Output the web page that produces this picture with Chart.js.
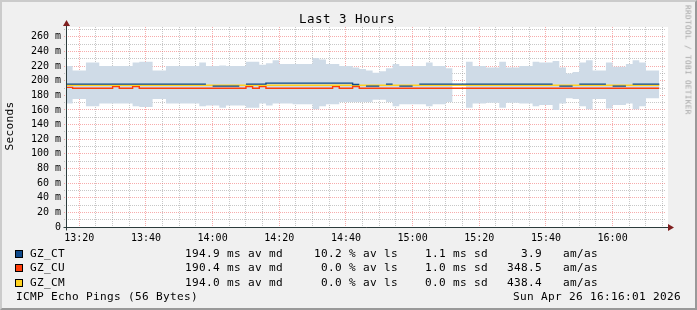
<!DOCTYPE html>
<html>
<head>
<meta charset="utf-8">
<script src="https://cdn.jsdelivr.net/npm/chart.js@4/dist/chart.umd.min.js"></script>
<style>
html,body{margin:0;padding:0;background:#f0f0f0;}
#wrap{position:relative;width:697px;height:310px;overflow:hidden;background:#f0f0f0;box-sizing:border-box;}
#frame{position:absolute;left:0;top:0;width:697px;height:310px;box-sizing:border-box;border-top:2px solid #cbcbcb;border-left:2px solid #cbcbcb;border-right:2px solid #999;border-bottom:2px solid #999;pointer-events:none;}
canvas{position:absolute;left:0;top:0;}
.t{position:absolute;font-family:"DejaVu Sans Mono",monospace;color:#000;white-space:pre;font-size:11.1px;letter-spacing:0.32px;line-height:14px;}
.r{text-align:right;}
.sw{position:absolute;width:6px;height:6px;border:1px solid #000;}
</style>
</head>
<body>
<div id="wrap">
<canvas id="c" width="697" height="310"></canvas>
<div id="title" class="t" style="left:0;top:11px;width:694px;text-align:center;font-size:12.5px;letter-spacing:0.47px;line-height:16px;"></div>
<div id="ylab" class="t" style="left:10px;top:126px;transform:translate(-50%,-50%) rotate(-90deg);"></div>
<div id="wm" class="t" style="left:688px;top:60px;transform:translate(-50%,-50%) rotate(90deg);font-size:7.6px;letter-spacing:0.42px;color:#a0a0a0;line-height:9px;"></div>
<div id="legend"></div>
<div id="frame"></div>
</div>
<script>
// ---- data ----
const chartTitle = 'Last 3 Hours';
const yAxisTitle = 'Seconds';
const watermark = 'RRDTOOL / TOBI OETIKER';
const xMin = 13*60 + 16 + 1/60;   // 13:16:01
const xMax = 16*60 + 16 + 1/60;   // 16:16:01
const xGridValues = [800,805,810,815,820,825,830,835,840,845,850,855,860,865,870,875,880,885,890,895,900,905,910,915,920,925,930,935,940,945,950,955,960,965,970,975];
const xTickValues = [800,820,840,860,880,900,920,940,960];
const xTickLabels = ['13:20','13:40','14:00','14:20','14:40','15:00','15:20','15:40','16:00'];
const yMax = 273.5;
const yGridValues = [0,10,20,30,40,50,60,70,80,90,100,110,120,130,140,150,160,170,180,190,200,210,220,230,240,250,260,270];
const yTickValues = [0,20,40,60,80,100,120,140,160,180,200,220,240,260];
const yTickLabels = ['0','20 m','40 m','60 m','80 m','100 m','120 m','140 m','160 m','180 m','200 m','220 m','240 m','260 m'];
const stepStart = 796;   // 13:16 in minutes
const stepMinutes = 2;
const bandHi = [220,214,214,225,225,220,220,220,220,220,225,226,226,214,214,220,220,220,220,220,
  225,220,220,221,220,220,220,226,226,222,224,228,223,223,223,223,223,231,229,223,
  223,220,220,218,216,214,211,213,217,223,220,220,220,220,225,220,220,217,null,null,
  226,220,220,218,218,226,218,218,220,220,226,225,225,227,218,210,212,225,228,214,
  214,225,219,219,223,228,225,214,214];
const bandLo = [169,175,175,165,165,169,169,169,169,169,165,164,164,175,175,169,169,169,169,169,
  165,166,166,163,166,166,166,163,163,169,166,169,169,169,168,168,168,161,165,168,
  168,171,171,171,171,171,174,174,171,165,168,168,168,168,165,168,168,171,null,null,
  163,169,169,170,170,163,170,170,169,169,165,167,167,160,169,176,175,165,161,175,
  175,162,167,167,169,161,165,176,176];
const ctMedian = [195.4,195.4,195.4,195.4,195.4,195.4,195.4,195.4,195.4,195.4,195.4,195.4,195.4,195.4,195.4,195.4,195.4,195.4,195.4,195.4,
  195.4,null,192.6,192.6,192.6,192.6,null,195.4,195.4,195.4,196.8,196.8,196.8,196.8,196.8,196.8,196.8,196.8,196.8,196.8,
  196.8,196.8,196.8,194.8,null,192.6,192.6,null,195.4,null,192.6,192.6,null,195.4,195.4,195.4,195.4,195.4,195.4,195.4,
  195.4,195.4,195.4,195.4,195.4,195.4,195.4,195.4,195.4,195.4,195.4,195.4,195.4,null,192.6,192.6,null,195.4,195.4,195.4,
  195.4,null,192.6,192.6,null,195.4,195.4,195.4,195.4];
const cuMedian = [191,189.7,189.7,189.7,189.7,189.7,189.7,192,189.7,189.7,192,189.7,189.7,189.7,189.7,189.7,189.7,189.7,189.7,189.7,
  189.7,189.7,189.7,189.7,189.7,189.7,189.7,192,189.7,192,189.7,189.7,189.7,189.7,189.7,189.7,189.7,189.7,189.7,189.7,
  192,189.7,189.7,192,189.7,189.7,189.7,189.7,189.7,189.7,189.7,189.7,189.7,189.7,189.7,189.7,189.7,189.7,189.7,189.7,
  189.7,189.7,189.7,189.7,189.7,189.7,189.7,189.7,189.7,189.7,189.7,189.7,189.7,189.7,189.7,189.7,189.7,189.7,189.7,189.7,
  189.7,189.7,189.7,189.7,189.7,189.7,189.7,189.7,189.7];
const cmMedian = [193.8,193.8,193.8,193.8,193.8,193.8,193.8,193.8,193.8,193.8,193.8,193.8,193.8,193.8,193.8,193.8,193.8,193.8,193.8,193.8,
  193.8,193.8,193.8,193.8,193.8,193.8,193.8,193.8,193.8,193.8,193.8,193.8,193.8,193.8,193.8,193.8,193.8,193.8,193.8,193.8,
  193.8,193.8,193.8,193.8,193.8,193.8,193.8,193.8,193.8,193.8,193.8,193.8,193.8,193.8,193.8,193.8,193.8,193.8,193.8,193.8,
  193.8,193.8,193.8,193.8,193.8,193.8,193.8,193.8,193.8,193.8,193.8,193.8,193.8,193.8,193.8,193.8,193.8,193.8,193.8,193.8,
  193.8,193.8,193.8,193.8,193.8,193.8,193.8,193.8,193.8];
const seriesNames = ['GZ_CT','GZ_CU','GZ_CM'];
const legendMedian = ['194.9 ms av md','190.4 ms av md','194.0 ms av md'];
const legendLoss = ['10.2 % av ls','0.0 % av ls','0.0 % av ls'];
const legendSd = ['1.1 ms sd','1.0 ms sd','0.0 ms sd'];
const legendAmas = ['3.9','348.5','438.4'];
const footerLeft = 'ICMP Echo Pings (56 Bytes)';
const footerRight = 'Sun Apr 26 16:16:01 2026';

// ---- styles ----
const seriesColors = ['#0f4a8c','#ff3d0a','#ffd21f'];
const bandColor = '#cfdbe7';
const majorGrid = 'rgba(240,90,90,0.5)';
const minorGrid = 'rgba(130,130,130,0.45)';
const axisColor = '#2c3c3c';
const arrowColor = '#7f1f1f';
const FONT = '"DejaVu Sans Mono", monospace';

// ---- text ----
document.getElementById('title').textContent = chartTitle;
document.getElementById('ylab').textContent = yAxisTitle;
document.getElementById('wm').textContent = watermark;
const leg = document.getElementById('legend');
function addText(txt, css, cls){
  const d = document.createElement('div');
  d.className = 't' + (cls ? ' ' + cls : '');
  d.style.cssText = css;
  d.textContent = txt;
  leg.appendChild(d);
}
seriesNames.forEach((n,i)=>{
  const top = 247 + i*14.3;
  const sw = document.createElement('div');
  sw.className = 'sw';
  sw.style.cssText = 'left:15px;top:' + (top+3) + 'px;background:' + seriesColors[i] + ';';
  leg.appendChild(sw);
  addText(n, 'left:30px;top:' + top + 'px;');
  addText(legendMedian[i], 'left:185px;top:' + top + 'px;');
  addText(legendLoss[i], 'right:' + (697-398) + 'px;top:' + top + 'px;', 'r');
  addText(legendSd[i], 'left:425px;top:' + top + 'px;');
  addText(legendAmas[i], 'right:' + (697-542) + 'px;top:' + top + 'px;', 'r');
  addText('am/as', 'left:563px;top:' + top + 'px;');
});
addText(footerLeft, 'left:16px;top:290px;');
addText(footerRight, 'right:' + (697-681) + 'px;top:290px;', 'r');

// ---- chart ----
function stepPoints(vals){
  const pts = [];
  vals.forEach((v,k)=>{
    const t0 = stepStart + k*stepMinutes, t1 = t0 + stepMinutes;
    if (v === null) pts.push({x: t0 + stepMinutes/2, y: null});
    else pts.push({x: t0, y: v}, {x: t1, y: v});
  });
  return pts;
}

const bgPlugin = {
  id: 'rrdbg',
  beforeDraw(chart){
    const {ctx, chartArea: a} = chart;
    ctx.save();
    ctx.fillStyle = '#ffffff';
    ctx.fillRect(a.left, a.top, a.right - a.left + 2, a.bottom - a.top);
    ctx.restore();
  },
  afterDraw(chart){
    const {ctx, chartArea: a} = chart;
    const x0 = Math.round(a.left) + 0.5, y0 = Math.round(a.bottom) + 0.5;
    ctx.save();
    ctx.strokeStyle = axisColor;
    ctx.lineWidth = 1;
    ctx.beginPath();
    ctx.moveTo(x0 - 3, y0); ctx.lineTo(a.right + 4, y0);
    ctx.moveTo(x0, y0 + 3); ctx.lineTo(x0, a.top - 3);
    ctx.stroke();
    ctx.fillStyle = arrowColor;
    ctx.beginPath();
    ctx.moveTo(x0, a.top - 7); ctx.lineTo(x0 - 3.5, a.top - 1); ctx.lineTo(x0 + 3.5, a.top - 1); ctx.closePath();
    ctx.fill();
    ctx.beginPath();
    ctx.moveTo(a.right + 8, y0); ctx.lineTo(a.right + 2, y0 - 3.5); ctx.lineTo(a.right + 2, y0 + 3.5); ctx.closePath();
    ctx.fill();
    ctx.restore();
  }
};

const gridX = c => ((c.tick && (c.tick.value - 800) % 20 === 0) ? majorGrid : minorGrid);
const gridY = c => ((c.tick && c.tick.value % 20 === 0) ? majorGrid : minorGrid);

new Chart(document.getElementById('c'), {
  type: 'line',
  data: {
    datasets: [
      {label: seriesNames[0], data: stepPoints(ctMedian), borderColor: seriesColors[0], borderWidth: 1.4, pointRadius: 0, fill: false, order: 1, spanGaps: false},
      {label: seriesNames[2], data: stepPoints(cmMedian), borderColor: seriesColors[2], borderWidth: 1.4, pointRadius: 0, fill: false, order: 2, spanGaps: false},
      {label: seriesNames[1], data: stepPoints(cuMedian), borderColor: seriesColors[1], borderWidth: 1.4, pointRadius: 0, fill: false, order: 3, spanGaps: false},
      {label: 'hi', data: stepPoints(bandHi), borderWidth: 0, borderColor: 'rgba(0,0,0,0)', backgroundColor: bandColor, pointRadius: 0, fill: '+1', order: 10, spanGaps: false},
      {label: 'lo', data: stepPoints(bandLo), borderWidth: 0, borderColor: 'rgba(0,0,0,0)', pointRadius: 0, fill: false, order: 11, spanGaps: false}
    ]
  },
  options: {
    responsive: false,
    animation: false,
    devicePixelRatio: 1,
    events: [],
    layout: {padding: {left: 0, top: 27, right: 31, bottom: 0}},
    plugins: {legend: {display: false}, tooltip: {enabled: false}, title: {display: false}},
    elements: {line: {tension: 0}},
    scales: {
      x: {
        type: 'linear', min: xMin, max: xMax, z: 1,
        afterBuildTicks: s => { s.ticks = xGridValues.map(v => ({value: v})); },
        afterFit: s => { s.height = 83; },
        ticks: {
          autoSkip: false, maxRotation: 0, padding: 3, color: '#000',
          font: {family: FONT, size: 10},
          callback: v => { const i = xTickValues.indexOf(v); return i >= 0 ? xTickLabels[i] : ''; }
        },
        grid: {color: gridX, tickColor: gridX, tickLength: 2, lineWidth: 1, drawTicks: true, tickBorderDash: [1,1]},
        border: {display: false, dash: [1,1]}
      },
      y: {
        type: 'linear', min: 0, max: yMax, z: 1,
        afterBuildTicks: s => { s.ticks = yGridValues.map(v => ({value: v})); },
        afterFit: s => { s.width = 66; },
        ticks: {
          autoSkip: false, padding: 3, color: '#000',
          font: {family: FONT, size: 10},
          callback: v => { const i = yTickValues.indexOf(v); return i >= 0 ? yTickLabels[i] : ''; }
        },
        grid: {color: gridY, tickColor: gridY, tickLength: 2, lineWidth: 1, drawTicks: true, tickBorderDash: [1,1]},
        border: {display: false, dash: [1,1]}
      }
    }
  },
  plugins: [bgPlugin]
});
</script>
</body>
</html>
